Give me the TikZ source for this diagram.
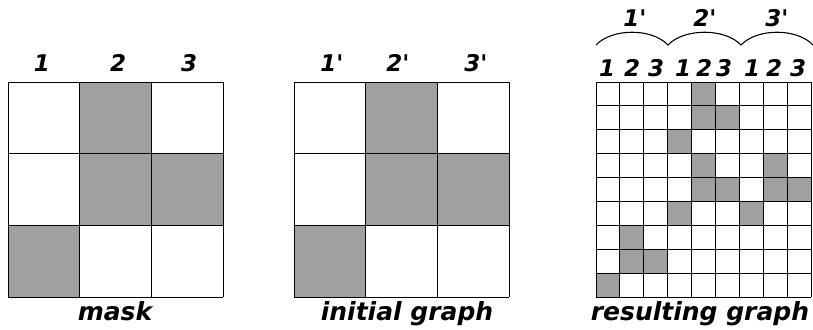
\documentclass[tikz,border=0pt]{standalone}
\usepackage{fontspec}
\setmainfont{DejaVu Sans}
\newcommand{\pr}{\textquotesingle}
\begin{document}
\begin{tikzpicture}[x=1pt,y=-1pt,
  lbl/.style={font=\fontsize{23}{23}\selectfont\bfseries\itshape, inner sep=0pt, anchor=base},
  captxt/.style={font=\fontsize{25}{25}\selectfont\bfseries\itshape, inner sep=0pt, anchor=base},
  gline/.style={draw=black, line width=0.9pt}]
\useasboundingbox (0,0) rectangle (813,329);
\definecolor{cellgray}{RGB}{160,160,160}
% mask grid
\def\cs{71.67}
\foreach \c/\r in {1/0,1/1,2/1,0/2} \fill[cellgray] (8+\c*\cs,82+\r*\cs) rectangle ++(\cs,\cs);
\foreach \i in {0,1,2,3} {
  \draw[gline] (8+\i*\cs,82) -- (8+\i*\cs,297);
  \draw[gline] (8,82+\i*\cs) -- (223,82+\i*\cs);
}
% initial grid
\foreach \c/\r in {1/0,1/1,2/1,0/2} \fill[cellgray] (294+\c*\cs,82+\r*\cs) rectangle ++(\cs,\cs);
\foreach \i in {0,1,2,3} {
  \draw[gline] (294+\i*\cs,82) -- (294+\i*\cs,297);
  \draw[gline] (294,82+\i*\cs) -- (509,82+\i*\cs);
}
% resulting grid
\def\rs{23.89}
\foreach \c/\r in {4/0,4/1,5/1,3/2,4/3,7/3,4/4,5/4,7/4,8/4,3/5,6/5,1/6,1/7,2/7,0/8}
  \fill[cellgray] (596+\c*\rs,82+\r*\rs) rectangle ++(\rs,\rs);
\foreach \i in {0,...,9} {
  \draw[gline] (596+\i*\rs,82) -- (596+\i*\rs,297);
  \draw[gline] (596,82+\i*\rs) -- (811,82+\i*\rs);
}
% mask labels
\node[lbl] (m1) at (42,71) {1};
\node[lbl] (m2) at (118,71) {2};
\node[lbl] (m3) at (189,71) {3};
\node[captxt] (mcap) at (115,320) {mask};
% initial labels
\node[lbl] (i1) at (332,71) {1\pr};
\node[lbl] (i2) at (398,71) {2\pr};
\node[lbl] (i3) at (476,71) {3\pr};
\node[captxt] (icap) at (407,320) {initial graph};
% resulting labels
\foreach \n/\x/\t in {a/607/1,b/632/2,c/656/3,d/683/1,e/704/2,f/724/3,g/752/1,h/774/2,k/798/3}
  \node[lbl] (r\n) at (\x,76) {\t};
\node[lbl] (t1) at (635,27) {1\pr};
\node[lbl] (t2) at (705,27) {2\pr};
\node[lbl] (t3) at (777,27) {3\pr};
\node[captxt] (rcap) at (700,320) {resulting graph};
% braces
\draw[line width=1.1pt] (596,45) .. controls (612,28) and (652,28) .. (668,45);
\draw[line width=1.1pt] (668,45) .. controls (684,28) and (725,28) .. (741,45);
\draw[line width=1.1pt] (741,45) .. controls (757,28) and (797,28) .. (813,45);
\end{tikzpicture}
\end{document}
